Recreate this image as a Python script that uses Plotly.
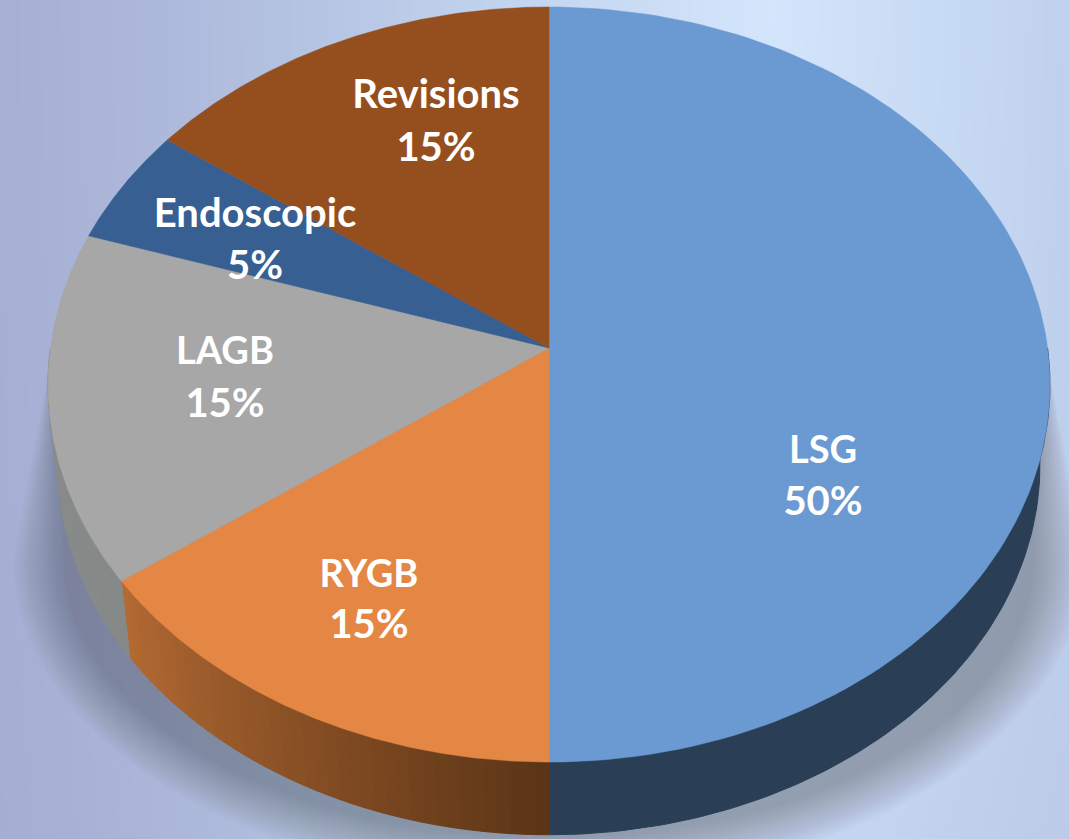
import numpy as np
import plotly.graph_objects as go

# Data
labels = ["LSG", "RYGB", "LAGB", "Endoscopic", "Revisions"]
values = [50, 15, 15, 5, 15]
top_colors = ["#6b9ad2", "#e48744", "#a7a7a7", "#375f92", "#954f1f"]
wall_near = ["#2a3f56", "#5b3517", "#858a88", "#2a3f56", "#5b3517"]
wall_far = ["#2a3f56", "#b46a33", "#8e8e8e", "#2a3f56", "#5b3517"]
label_x = [823, 369, 225, 255, 436]
name_y = [453, 577, 354, 217, 98]
pct_y = [505, 628, 407, 269, 151]
name_sizes = [38, 38, 38, 40, 40]

# Picture geometry of the tilted disc
W, H = 1069, 839
APEX_X, APEX_Y = 549, 348
A, B, K = 498.6, 374, 0.0967
DEPTH_SCALE, DEPTH_Y = 0.98, 429
WALL_FROM, WALL_TO = np.radians(90), np.radians(270)


def hex_rgb(c):
    return np.array([int(c[i:i + 2], 16) for i in (1, 3, 5)], dtype=float)


def mix(c1, c2, t):
    r = hex_rgb(c1) * (1 - t) + hex_rgb(c2) * t
    return "rgb(%d,%d,%d)" % tuple(r)


def rim(theta):
    u, v = np.sin(theta), -np.cos(theta)
    d = 1 - K * v
    return APEX_X + A * u / d, APEX_Y + B * v / d


def low_rim(theta):
    u, v = np.sin(theta), -np.cos(theta)
    d = 1 - K * v
    return APEX_X + DEPTH_SCALE * A * u / d, DEPTH_Y + DEPTH_SCALE * B * v / d


def poly(xs, ys, color, width=1):
    return go.Scatter(x=xs, y=ys, mode="lines", fill="toself", fillcolor=color,
                      line=dict(color=color, width=width), hoverinfo="skip", showlegend=False)


fig = go.Figure()

# Background gradient
gx = np.linspace(0, W, 55)
gy = np.linspace(0, H, 43)
xx, yy = np.meshgrid(gx, gy)
field = np.sqrt(((xx - 770) / 770) ** 2 + (yy / 839 * 0.3) ** 2)
fig.add_trace(go.Heatmap(
    x=gx, y=gy, z=np.clip(field, 0, 1.05), zmin=0, zmax=1.05, zsmooth="best", showscale=False,
    hoverinfo="skip",
    colorscale=[[0, "#d3e6fc"], [0.3, "#c3d5f0"], [0.55, "#b6c5e3"], [0.8, "#abb6d9"], [1, "#a4add2"]],
))

# Soft shadow under the disc, tapering out behind the rim on each side
for s in np.linspace(1, 0, 24):
    t = np.linspace(0, np.pi, 90)
    sx = 549 + (485 + 51 * s) * np.cos(t)
    sy = 560 + (278 + 47 * s) * np.sin(t)
    sx = np.r_[1020, 1036, 1042, sx, 56, 62, 78]
    sy = np.r_[265, 300, 330, sy, 330, 300, 265]
    fig.add_trace(poly(sx, sy, "rgba(50,60,85,0.014)", width=0))

# Side walls, built from the slice angles in short strips
stops = np.cumsum([0] + values) / sum(values) * 2 * np.pi
for i in range(len(values)):
    a0, a1 = max(stops[i], WALL_FROM), min(stops[i + 1], WALL_TO)
    if a1 <= a0:
        continue
    n_strips = 1 if wall_near[i] == wall_far[i] else 40
    edges = np.linspace(a0, a1, n_strips + 1)
    # colour fractions run along the whole slice, not the visible part
    for j in range(n_strips):
        seg = np.linspace(edges[j], edges[j + 1], 90 // n_strips + 4)
        x1, y1 = rim(seg)
        x2, y2 = low_rim(seg)
        f = ((edges[j] + edges[j + 1]) / 2 - stops[i]) / (stops[i + 1] - stops[i])
        color = mix(wall_near[i], wall_far[i], f)
        fig.add_trace(poly(np.r_[x1, x2[::-1], x1[0]], np.r_[y1, y2[::-1], y1[0]], color))

# Slice tops
for i in range(len(values)):
    t = np.linspace(stops[i], stops[i + 1], 120)
    x1, y1 = rim(t)
    fig.add_trace(go.Scatter(
        x=np.r_[APEX_X, x1, APEX_X], y=np.r_[APEX_Y, y1, APEX_Y], mode="lines", fill="toself",
        fillcolor=top_colors[i], line=dict(color=top_colors[i], width=0.5),
        name=labels[i], showlegend=False, hoveron="fills",
        text=f"{labels[i]} {values[i]}%", hoverinfo="text",
    ))

# Labels
fig.add_trace(go.Scatter(x=label_x, y=name_y, mode="text", text=labels,
                         textfont=dict(family="Lato", size=name_sizes, color="white", weight="bold"),
                         textposition="middle center", hoverinfo="skip", showlegend=False))
fig.add_trace(go.Scatter(x=label_x, y=pct_y, mode="text", text=[f"{v}%" for v in values],
                         textfont=dict(family="Lato", size=40, color="white", weight="bold"),
                         textposition="middle center", hoverinfo="skip", showlegend=False))

fig.update_layout(
    width=W, height=H, margin=dict(l=0, r=0, t=0, b=0),
    paper_bgcolor="#b6c5e3", plot_bgcolor="#b6c5e3",
    xaxis=dict(range=[0, W], visible=False, fixedrange=True),
    yaxis=dict(range=[H, 0], visible=False, fixedrange=True),
)

fig.write_html("out.html", config=dict(displayModeBar=False),
               post_script="document.body.style.margin='0';document.body.style.overflow='hidden';")
